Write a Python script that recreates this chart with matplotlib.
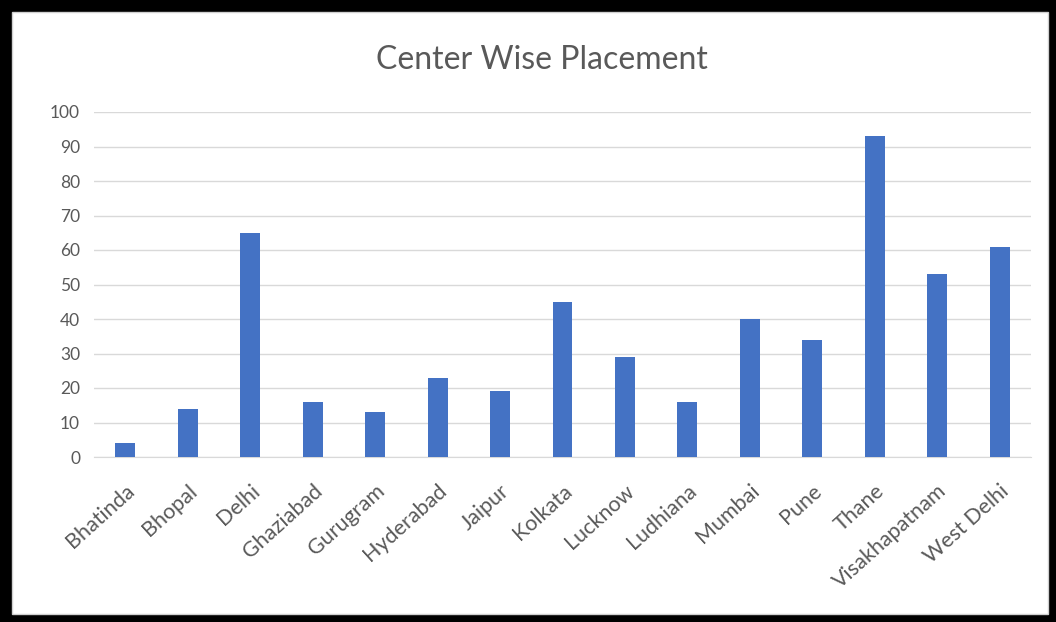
import matplotlib
matplotlib.use("Agg")
import matplotlib.pyplot as plt
from matplotlib.patches import Rectangle

centers = ["Bhatinda", "Bhopal", "Delhi", "Ghaziabad", "Gurugram", "Hyderabad",
           "Jaipur", "Kolkata", "Lucknow", "Ludhiana", "Mumbai", "Pune",
           "Thane", "Visakhapatnam", "West Delhi"]
placements = [4, 14, 65, 16, 13, 23, 19, 45, 29, 16, 40, 34, 93, 53, 61]
y_ticks = list(range(0, 101, 10))

plt.rcParams['font.family'] = ['Lato', 'DejaVu Sans']

W, H = 1056, 622
fig = plt.figure(figsize=(W / 100, H / 100), dpi=100)
fig.patch.set_facecolor("black")
# white chart area inside the black frame
fig.patches.append(Rectangle((12 / W, 8 / H), 1036 / W, 602 / H,
                             transform=fig.transFigure, facecolor="white",
                             edgecolor="#d0d0d0", linewidth=1, zorder=-10))

ax = fig.add_axes([94 / W, 1 - 457 / H, 937 / W, 345 / H])
ax.set_facecolor("none")
ax.set_zorder(5)
x = range(len(centers))
ax.bar(x, placements, width=0.32, color="#4472C4", zorder=3)

ax.set_xlim(-0.5, len(centers) - 0.5)
ax.set_ylim(0, 100)
ax.set_yticks(y_ticks)
ax.set_xticks(list(x))
ax.set_xticklabels(centers, rotation=42, ha="right", rotation_mode="anchor",
                   fontsize=15.5)
ax.tick_params(axis="both", length=0, colors="#595959")
ax.tick_params(axis="y", pad=10, labelsize=12.5)
ax.tick_params(axis="x", pad=17)
ax.grid(axis="y", color="#d9d9d9", linewidth=1, zorder=0)
for s in ["top", "right", "left"]:
    ax.spines[s].set_visible(False)
ax.spines["bottom"].set_color("#d9d9d9")

fig.text(0.513, 0.903, "Center Wise Placement", ha="center", va="center",
         fontsize=23, color="#595959", zorder=6)

fig.savefig("out.png", dpi=100, facecolor=fig.get_facecolor())
